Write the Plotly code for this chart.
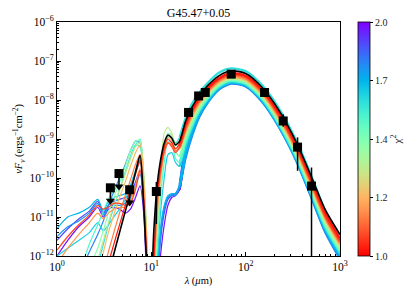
import numpy as np
import plotly.graph_objects as go

# ---------------- data ----------------
wavelength_um = [1.0, 1.3, 1.7, 2.2, 2.7, 3.1, 3.5, 4.0, 4.6, 5.3, 6.0, 6.8, 7.6, 8.3, 9.0, 9.8,
                 10.6, 11.5, 12.5, 13.7, 15.0, 16.5, 18.0, 20.0, 23.0, 27.0, 32.0, 40.0, 52.0,
                 70.0, 100.0, 150.0, 230.0, 350.0, 500.0, 700.0, 1000.0]

# log10(nu F_nu) of the best fit model (black)
best_fit_logF = [-14, -14, -14, -14, -13.6, -13.0, -12.5, -11.95, -11.4, -10.85,
                 -10.4, -9.85, -9.42, -10.7, -12.3, -13.2, -11.4, -10.2, -9.55, -9.1,
                 -8.9, -8.98, -9.15, -9.05, -8.55, -8.18, -7.9, -7.62, -7.38, -7.25,
                 -7.32, -7.68, -8.3, -9.12, -9.98, -10.82, -11.45]

# other models, log10(nu F_nu), with their chi^2
model_R1_logF = [-14, -14, -14, -13.8, -13.2, -12.7, -12.2, -11.7, -11.2, -10.7,
                 -10.3, -9.9, -9.55, -10.6, -12.5, -14, -12.2, -10.5, -9.7, -9.2,
                 -9.0, -9.1, -9.25, -9.1, -8.62, -8.25, -7.96, -7.68, -7.44, -7.31,
                 -7.38, -7.74, -8.36, -9.18, -10.05, -10.9, -11.55]
model_R2_logF = [-11.85, -11.5, -11.2, -10.95, -10.7, -10.8, -10.75, -10.65, -10.65, -10.7,
                 -10.65, -10.3, -9.8, -10.6, -12.2, -13.5, -12.0, -10.6, -9.8, -9.3,
                 -9.1, -9.2, -9.35, -9.2, -8.7, -8.3, -8.0, -7.72, -7.47, -7.34,
                 -7.41, -7.78, -8.42, -9.25, -10.12, -10.98, -11.62]
model_O1_logF = [-14, -14, -14, -13.5, -12.9, -12.4, -11.9, -11.4, -10.9, -10.45,
                 -10.05, -9.65, -9.4, -10.3, -12.0, -13.5, -12.3, -10.8, -9.9, -9.35,
                 -9.1, -9.15, -9.3, -9.2, -8.75, -8.35, -8.04, -7.75, -7.5, -7.37,
                 -7.44, -7.8, -8.45, -9.28, -10.16, -11.0, -11.65]
model_O2_logF = [-12.2, -11.8, -11.45, -11.15, -10.9, -11.05, -10.9, -10.8, -10.75, -10.75,
                 -10.6, -10.2, -9.75, -10.5, -12.3, -13.8, -12.5, -10.9, -9.95, -9.35,
                 -9.1, -9.15, -9.3, -9.22, -8.78, -8.38, -8.06, -7.77, -7.52, -7.39,
                 -7.46, -7.83, -8.48, -9.31, -10.19, -11.03, -11.68]
model_Y1_logF = [-14, -14, -13.8, -13.0, -12.4, -11.9, -11.4, -10.95, -10.5, -10.1,
                 -9.7, -9.35, -9.15, -10.0, -11.8, -13.5, -12.5, -11.0, -10.0, -9.3,
                 -8.95, -9.05, -9.3, -9.25, -8.82, -8.42, -8.1, -7.8, -7.54, -7.41,
                 -7.48, -7.85, -8.5, -9.34, -10.22, -11.06, -11.72]
model_G1_logF = [-14, -14, -13.5, -12.7, -12.1, -11.6, -11.15, -10.7, -10.3, -9.9,
                 -9.5, -9.2, -9.1, -9.9, -11.6, -13.5, -12.7, -11.2, -9.9, -8.85,
                 -8.7, -8.85, -9.15, -9.2, -8.9, -8.5, -8.16, -7.85, -7.58, -7.45,
                 -7.52, -7.9, -8.56, -9.4, -10.28, -11.12, -11.78]
model_G2_logF = [-14, -13.8, -13.1, -12.3, -11.8, -11.35, -10.9, -10.5, -10.1, -9.7,
                 -9.3, -9.05, -9.05, -9.9, -11.7, -13.5, -13.0, -11.5, -10.3, -9.4,
                 -8.85, -8.9, -9.3, -9.45, -9.0, -8.58, -8.22, -7.9, -7.62, -7.48,
                 -7.55, -7.93, -8.6, -9.45, -10.34, -11.18, -11.84]
model_C1_logF = [-14, -13.4, -12.5, -11.7, -11.2, -10.85, -10.55, -10.3, -10.1, -9.85,
                 -9.5, -9.15, -9.0, -10.0, -12.0, -13.8, -13.2, -11.8, -10.5, -9.6,
                 -9.05, -9.1, -9.5, -9.6, -9.1, -8.66, -8.28, -7.94, -7.65, -7.51,
                 -7.58, -7.97, -8.65, -9.5, -10.4, -11.25, -11.9]
model_C2_logF = [-14, -14, -13.6, -12.8, -12.2, -11.7, -11.2, -10.75, -10.3, -9.85,
                 -9.45, -9.15, -9.2, -10.2, -12.3, -14, -12.6, -11.0, -10.0, -9.3,
                 -8.95, -8.95, -9.1, -8.95, -8.48, -8.1, -7.82, -7.55, -7.3, -7.19,
                 -7.26, -7.62, -8.25, -9.08, -9.96, -10.85, -11.55]
model_C3_logF = [-12.0, -11.8, -11.6, -11.4, -11.15, -11.35, -11.2, -11.0, -10.8, -10.55,
                 -10.2, -9.8, -9.5, -10.3, -12.2, -14, -13.5, -12.2, -10.9, -10.0,
                 -9.4, -9.35, -9.6, -9.7, -9.2, -8.72, -8.32, -7.98, -7.68, -7.54,
                 -7.61, -8.0, -8.68, -9.53, -10.44, -11.3, -11.95]
model_B1_logF = [-11.3, -11.0, -10.9, -10.75, -10.55, -10.85, -10.6, -10.5, -10.45, -10.4,
                 -10.2, -9.85, -9.6, -10.4, -12.3, -14, -13.5, -12.5, -11.3, -10.7,
                 -10.45, -10.4, -10.4, -10.2, -9.4, -8.85, -8.4, -8.02, -7.7, -7.55,
                 -7.62, -8.02, -8.7, -9.56, -10.46, -11.32, -12.0]
model_B3_logF = [-11.5, -11.25, -11.1, -10.9, -10.65, -10.95, -10.75, -10.7, -10.7, -10.65,
                 -10.5, -10.2, -9.9, -10.7, -12.6, -14, -14, -12.7, -11.4, -10.75,
                 -10.5, -10.42, -10.4, -10.15, -9.42, -8.88, -8.43, -8.04, -7.72, -7.57,
                 -7.64, -8.04, -8.72, -9.58, -10.5, -11.38, -12.05]
model_B2_logF = [-14, -13.2, -12.5, -11.9, -11.45, -11.1, -10.7, -10.35, -10.0, -9.65,
                 -9.3, -9.05, -9.1, -10.1, -12.3, -14, -14, -12.8, -11.5, -10.8,
                 -10.5, -10.45, -10.45, -10.25, -9.5, -8.92, -8.45, -8.05, -7.73, -7.58,
                 -7.65, -8.05, -8.73, -9.6, -10.52, -11.4, -12.08]
model_P1_logF = [-11.6, -11.3, -11.05, -10.85, -10.6, -10.9, -10.7, -10.6, -10.55, -10.5,
                 -10.4, -10.1, -9.8, -10.6, -12.5, -14, -14, -12.9, -11.6, -10.9,
                 -10.55, -10.45, -10.4, -10.2, -9.2, -8.7, -8.3, -7.96, -7.66, -7.52,
                 -7.59, -7.98, -8.66, -9.51, -10.42, -11.27, -11.92]
model_P2_logF = [-12.0, -11.6, -11.25, -11.0, -10.75, -11.0, -10.8, -10.75, -10.8, -10.9,
                 -10.8, -10.5, -10.2, -10.9, -12.8, -14, -14, -13.2, -12.0, -11.2,
                 -10.7, -10.5, -10.45, -10.3, -9.3, -8.75, -8.32, -7.97, -7.67, -7.53,
                 -7.6, -7.99, -8.67, -9.52, -10.43, -11.28, -11.93]

model_chi2 = [1.02, 1.06, 1.12, 1.15, 1.2, 1.3, 1.4, 1.5, 1.58, 1.62, 1.68, 1.74, 1.78, 1.88, 1.97]
model_logF = [model_R1_logF, model_R2_logF, model_O1_logF, model_O2_logF, model_Y1_logF,
              model_G1_logF, model_G2_logF, model_C1_logF, model_C2_logF, model_C3_logF,
              model_B1_logF, model_B3_logF, model_B2_logF, model_P1_logF, model_P2_logF]

# detections (um, erg/s/cm2) with error bar ends
det_lambda = [11.3, 24.8, 31.7, 37.3, 70.3, 158.6, 250.0, 355.0, 499.0]
det_flux = [4.5e-11, 4.8e-9, 1.27e-8, 1.56e-8, 4.6e-8, 1.56e-8, 2.9e-9, 6.2e-10, 6.2e-11]
det_flux_top = [7.9e-11, 4.8e-9, 1.27e-8, 1.56e-8, 4.6e-8, 1.97e-8, 4.33e-9, 1.1e-9, 1.86e-10]
det_flux_bottom = [6.6e-12, 4.8e-9, 1.27e-8, 1.56e-8, 4.6e-8, 1.2e-8, 2.05e-9, 1.53e-10, 1e-14]

# upper limits
ul_lambda = [3.68, 4.54, 5.89]
ul_flux = [5.6e-11, 1.3e-10, 5.0e-11]

chi2_range = [1.0, 2.0]
cbar_tick_labels = ["1.0", "1.2", "1.4", "1.7", "2.0"]
x_tick_labels = ["10<sup>0</sup>", "10<sup>1</sup>", "10<sup>2</sup>", "10<sup>3</sup>"]
y_tick_labels = ["10<sup>\u221212</sup>", "10<sup>\u221211</sup>", "10<sup>\u221210</sup>",
                 "10<sup>\u22129</sup>", "10<sup>\u22128</sup>", "10<sup>\u22127</sup>",
                 "10<sup>\u22126</sup>"]

# ---------------- styling helpers ----------------
def rainbow_r(t):
    x = 1.0 - t
    r = min(1.0, abs(2 * x - 0.5))
    g = min(1.0, abs(np.sin(np.pi * x)))
    b = min(1.0, abs(np.cos(np.pi * x / 2)))
    return "rgb(%d,%d,%d)" % (round(r * 255), round(g * 255), round(b * 255))

lmin, lmax = np.log10(chi2_range[0]), np.log10(chi2_range[1])
def norm(c):
    return (np.log10(c) - lmin) / (lmax - lmin)

colorscale = [[t, rainbow_r(t)] for t in np.linspace(0, 1, 21)]

fig = go.Figure()
lam = np.array(wavelength_um)
split = 23  # index of 20 um: thin lines shortward, thicker band longward

order = np.argsort(model_chi2)[::-1]
for i in order:
    col = rainbow_r(norm(model_chi2[i]))
    y = 10 ** np.array(model_logF[i])
    fig.add_trace(go.Scatter(
        x=lam[:split + 2], y=y[:split + 2], mode="lines",
        line=dict(color=col, width=1.2, shape="spline", smoothing=0.7),
        hoverinfo="skip", showlegend=False))
    fig.add_trace(go.Scatter(
        x=lam[split:], y=y[split:], mode="lines",
        line=dict(color=col, width=2.3, shape="spline", smoothing=0.7),
        hoverinfo="skip", showlegend=False))

fig.add_trace(go.Scatter(
    x=lam, y=10 ** np.array(best_fit_logF), mode="lines",
    line=dict(color="black", width=1.6, shape="spline", smoothing=0.7),
    hoverinfo="skip", showlegend=False))

# detections
f = np.array(det_flux)
fig.add_trace(go.Scatter(
    x=det_lambda, y=det_flux, mode="markers",
    marker=dict(symbol="square", size=9, color="black"),
    error_y=dict(type="data", symmetric=False,
                 array=list(np.array(det_flux_top) - f),
                 arrayminus=list(f - np.array(det_flux_bottom)),
                 color="black", thickness=1.5, width=0),
    showlegend=False))

# upper limits with arrows
arrow_dex = 0.4
seg_x, seg_y = [], []
for lx, fy in zip(ul_lambda, ul_flux):
    seg_x += [lx, lx, None]
    seg_y += [fy, fy * 10 ** (-arrow_dex + 0.06), None]
fig.add_trace(go.Scatter(x=seg_x, y=seg_y, mode="lines",
                         line=dict(color="black", width=1.5), showlegend=False))
fig.add_trace(go.Scatter(x=ul_lambda, y=[v * 10 ** (-arrow_dex + 0.07) for v in ul_flux],
                         mode="markers",
                         marker=dict(symbol="triangle-down", size=8, color="black"),
                         showlegend=False))
fig.add_trace(go.Scatter(x=ul_lambda, y=ul_flux, mode="markers",
                         marker=dict(symbol="square", size=9, color="black"),
                         showlegend=False))

# colorbar
cb_pos = [np.log10(2 ** (k / 4)) for k in range(5)]
fig.add_trace(go.Scatter(
    x=[None], y=[None], mode="markers",
    marker=dict(color=[0], colorscale=colorscale, cmin=lmin, cmax=lmax, showscale=True,
                colorbar=dict(thickness=12, thicknessmode="pixels", len=1, lenmode="fraction",
                              y=0.5, yanchor="middle", x=1.063, xanchor="left",
                              xpad=0, ypad=0, outlinewidth=0.8, outlinecolor="black",
                              ticks="outside", ticklen=3, tickwidth=0.8, tickcolor="black",
                              tickvals=cb_pos, ticktext=cbar_tick_labels,
                              tickfont=dict(family="Liberation Serif", size=10, color="#222"),
                              title=dict(text="\u03c7<sup>2</sup>", side="right",
                                         font=dict(family="Liberation Serif", size=11, color="#222")))),
    showlegend=False, hoverinfo="skip"))

minor_vals = [d * 10.0 ** e for e in range(-13, 4) for d in range(2, 10)]

fig.update_layout(
    width=415, height=298,
    margin=dict(l=57, r=75, t=22, b=42),
    paper_bgcolor="white", plot_bgcolor="white",
    showlegend=False,
    title=dict(text="G45.47+0.05", x=0.5, xref="paper", xanchor="center",
               y=1 - 12.5 / 298, yref="container", yanchor="middle",
               font=dict(family="Liberation Serif", size=12, color="black")),
    xaxis=dict(type="log", range=[0, 3], tickmode="array",
               tickvals=[1, 10, 100, 1000], ticktext=x_tick_labels,
               ticks="inside", ticklen=4, tickwidth=0.8, tickcolor="black",
               showline=True, mirror=True, linecolor="black", linewidth=1,
               showgrid=False, zeroline=False,
               tickfont=dict(family="Liberation Serif", size=11.5, color="black"),
               minor=dict(tickmode="array", tickvals=minor_vals, ticks="inside",
                          ticklen=2, tickwidth=0.6, tickcolor="black", showgrid=False),
               title=dict(text="<i>\u03bb</i> (<i>\u03bc</i>m)", standoff=4,
                          font=dict(family="Liberation Serif", size=10.5, color="black"))),
    yaxis=dict(type="log", range=[-12, -6], tickmode="array",
               tickvals=[10.0 ** e for e in range(-12, -5)], ticktext=y_tick_labels,
               ticks="inside", ticklen=4, tickwidth=0.8, tickcolor="black",
               showline=True, mirror=True, linecolor="black", linewidth=1,
               showgrid=False, zeroline=False,
               tickfont=dict(family="Liberation Serif", size=11.5, color="black"),
               minor=dict(tickmode="array", tickvals=minor_vals, ticks="inside",
                          ticklen=2, tickwidth=0.6, tickcolor="black", showgrid=False),
               title=dict(text="<i>\u03bdF</i><sub><i>\u03bd</i></sub> (ergs<sup>\u22121</sup>cm<sup>\u22122</sup>)",
                          standoff=4,
                          font=dict(family="Liberation Serif", size=10.5, color="black"))),
)

# remove the default page margin so the figure sits at the window's top-left corner
fig.write_html("out.html", config={"displayModeBar": False},
               post_script="document.body.style.margin='0';")
